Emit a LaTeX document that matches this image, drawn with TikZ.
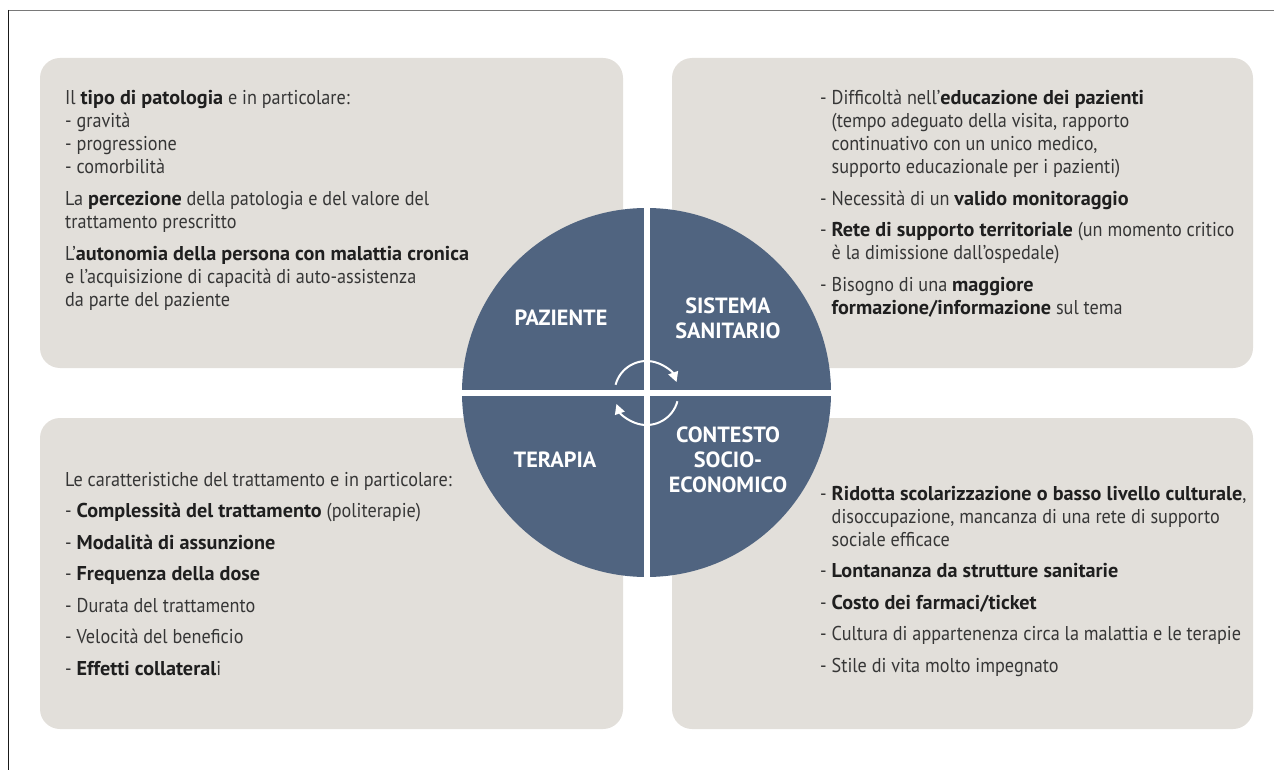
\documentclass[tikz,border=0pt]{standalone}
\usepackage{fontspec}
\setmainfont{PT Sans}[FakeStretch=0.91, BoldFeatures={FakeStretch=1.01}]
\usetikzlibrary{arrows.meta}
\definecolor{boxgray}{HTML}{E2DFDA}
\definecolor{slate}{HTML}{506480}
\definecolor{txt}{HTML}{363636}
\definecolor{txtb}{HTML}{1F1F1F}
\newcommand{\bb}[1]{{\bfseries\color{txtb}#1}}
\newcommand{\dd}{\makebox[11.5pt][l]{-}}
\newcommand{\ii}{\hspace*{11.5pt}}
\tikzset{
  panel/.style={fill=boxgray, rounded corners=20pt},
  bodytext/.style={anchor=base west, inner sep=0pt, text=txt, font=\fontsize{20}{23}\selectfont},
  label/.style={text=white, font=\fontsize{22}{25}\selectfont\bfseries, align=center, inner sep=0pt},
  divider/.style={white, line width=6pt},
  cyc/.style={white, line width=2pt, -{Triangle[length=10pt,width=10pt]}},
}
\begin{document}
\begin{tikzpicture}[x=1pt,y=-1pt]
\useasboundingbox (0,0) rectangle (1274,770);
% frame lines
\draw[color=gray!95!black, line width=1.5pt] (8,10.5) -- (1274,10.5);
\draw[color=black!90, line width=1.5pt] (8.5,10) -- (8.5,770);
% panels
\path[panel] (40,58) rectangle (623,368);
\path[panel] (672,58) rectangle (1253,368);
\path[panel] (40,418) rectangle (623,729);
\path[panel] (672,418) rectangle (1253,729);
% circle
\fill[slate] (646.5,392.5) circle (184.5);
\draw[divider] (646.5,207) -- (646.5,578);
\draw[divider] (461,393) -- (832,393);
\coordinate (c) at (646.5,393);
\draw[cyc] ([shift={(195:32)}]c) arc (195:340:32);
\draw[cyc] ([shift={(15:32)}]c) arc (15:160:32);
% labels
\node[label] (paz) at (561,318) {PAZIENTE};
\node[label] (sis) at (728,318) {SISTEMA\\SANITARIO};
\node[label] (ter) at (555,460) {TERAPIA};
\node[label] (con) at (728,460) {CONTESTO\\SOCIO-\\ECONOMICO};
% texts
\node[bodytext] (tl) at (65,105) {\parbox[t]{540pt}{\raggedright
Il \bb{tipo di patologia} e in particolare:\\
\dd gravità\\
\dd progressione\\
\dd comorbilità\\[9pt]
La \bb{percezione} della patologia e del valore del\\
trattamento prescritto\\[9pt]
L’\bb{autonomia della persona con malattia cronica}\\
e l’acquisizione di capacità di auto-assistenza\\
da parte del paziente}};
\node[bodytext] (tr) at (820,105) {\parbox[t]{430pt}{\raggedright
\dd Difficoltà nell’\bb{educazione dei pazienti}\\
\ii(tempo adeguato della visita, rapporto\\
\ii continuativo con un unico medico,\\
\ii supporto educazionale per i pazienti)\\[9pt]
\dd Necessità di un \bb{valido monitoraggio}\\[8pt]
\dd\bb{Rete di supporto territoriale} (un momento critico\\
\ii è la dimissione dall{\char"0027}ospedale)\\[9pt]
\dd Bisogno di una \bb{maggiore}\\
\ii\bb{formazione/informazione} sul tema}};
\node[bodytext] (bl) at (65,486) {\parbox[t]{540pt}{\raggedright
Le caratteristiche del trattamento e in particolare:\\[8.5pt]
\dd\bb{Complessità del trattamento} (politerapie)\\[8.5pt]
\dd\bb{Modalità di assunzione}\\[8.5pt]
\dd\bb{Frequenza della dose}\\[8.5pt]
\dd Durata del trattamento\\[8.5pt]
\dd Velocità del beneficio\\[8.5pt]
\dd\bb{Effetti collateral}i}};
\node[bodytext] (br) at (820,500) {\parbox[t]{440pt}{\raggedright
\dd\bb{Ridotta scolarizzazione o basso livello culturale},\\
\ii disoccupazione, mancanza di una rete di supporto\\
\ii sociale efficace\\[8.5pt]
\dd\bb{Lontananza da strutture sanitarie}\\[8.5pt]
\dd\bb{Costo dei farmaci/ticket}\\[8.5pt]
\dd Cultura di appartenenza circa la malattia e le terapie\\[8.5pt]
\dd Stile di vita molto impegnato}};
\end{tikzpicture}
\end{document}
